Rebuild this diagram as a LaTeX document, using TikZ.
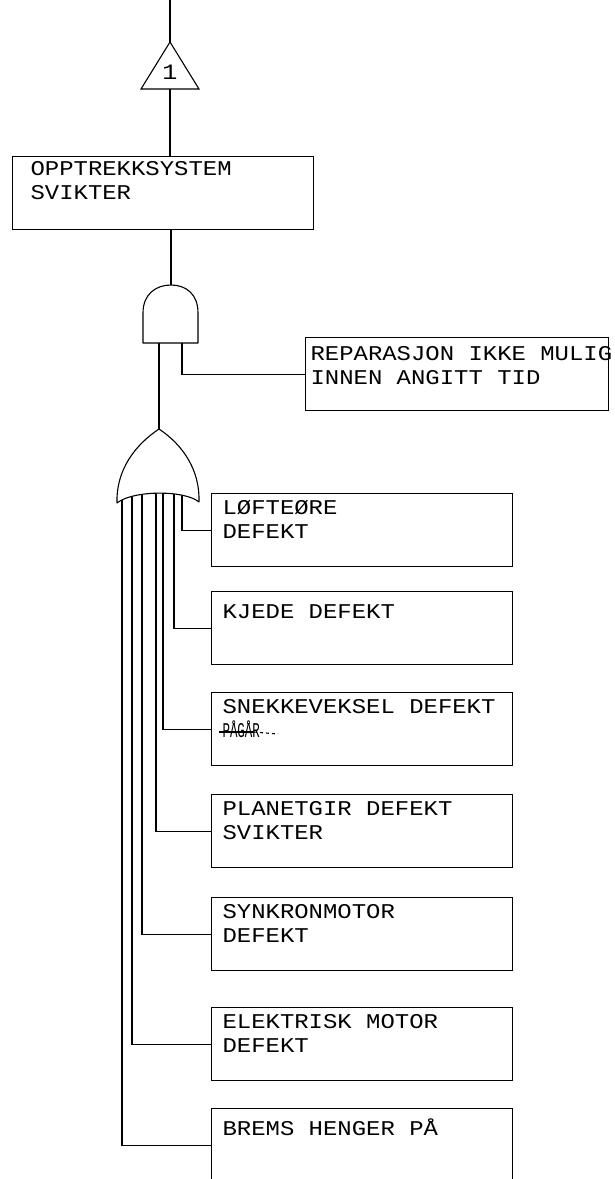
\documentclass[tikz,border=0pt]{standalone}
\usepackage{fontspec}
\newfontfamily\cadfont[FakeStretch=1.14]{Liberation Mono}
\usetikzlibrary{calc}
\newcommand{\pagar}{\scalebox{0.52}[1]{PÅGÅR}}

\begin{document}
\begin{tikzpicture}[
  x=1pt, y=-1pt,
  line width=1.1pt,
  font=\cadfont\fontsize{21}{24}\selectfont,
  evbox/.style={
    draw, anchor=north west, inner sep=0pt,
    minimum width=301pt, minimum height=73pt
  },
  evtext/.style={
    anchor=north west, inner sep=0pt, align=left,
    execute at begin node={\rule{0pt}{20pt}}
  },
  gate/.style={draw, fill=white, line join=round}
]
  \useasboundingbox (0,0) rectangle (614,1179);

  % top event and transfer symbol
  \coordinate (feed) at (170,0);
  \coordinate (tri-top) at (170,42);
  \coordinate (tri-base) at (170,89);
  \draw (tri-top) -- ++(29,47) -- ++(-58,0) -- cycle;
  \node[font=\cadfont\fontsize{22}{24}\selectfont] (tri) at (170,72) {1};
  \draw (feed) -- (tri-top);

  \node[evbox] (sys) at (12,156) {};
  \node[evtext] (sys-t) at ([shift={(18,5)}]sys.north west) {OPPTREKKSYSTEM\\SVIKTER};
  \draw (tri-base) -- (tri-base |- sys.north);

  % and gate
  \coordinate (and-top) at (171,285);
  \coordinate (and-l) at (159,343);
  \coordinate (and-r) at (182,343);
  \draw[gate] (143,343) -- (143,313)
    .. controls (143,294) and (156,285) .. (and-top)
    .. controls (186,285) and (198,294) .. (198,313) -- (198,343) -- cycle;
  \draw (and-top |- sys.south) -- (and-top);

  \node[evbox, minimum width=303pt] (rep) at (305,337) {};
  \node[evtext] (rep-t) at ([shift={(5,9)}]rep.north west) {REPARASJON IKKE MULIG\\INNEN ANGITT TID};
  \draw (and-r) |- (rep.west);

  % or gate inputs
  \coordinate (or-top) at (159,429);
  \draw (and-l) -- (or-top);
  \foreach \n/\yy/\xin/\txt in {
      lofte/493/182/{LØFTEØRE\\DEFEKT},
      kjede/591/174/{KJEDE DEFEKT},
      snekke/692/163/{SNEKKEVEKSEL DEFEKT\\\pagar},
      planet/794/156/{PLANETGIR DEFEKT\\SVIKTER},
      synkron/897/142/{SYNKRONMOTOR\\DEFEKT},
      elmotor/1007/132/{ELEKTRISK MOTOR\\DEFEKT},
      brems/1108/122/{BREMS HENGER PÅ}} {
    \node[evbox] (\n) at (211,\yy) {};
    \node[evtext] (\n-t) at ([shift={(11,7)}]\n.north west) {\txt};
    \coordinate (\n-in) at (\xin,488);
    \draw (\n-in) |- (\n.west);
  }
  \draw ([shift={(8,40)}]snekke.north west) -- ++(35,0);
  \draw[dashed] ([shift={(43,40)}]snekke.north west) -- ++(24,2);

  % or gate
  \draw[gate] (117,503) .. controls (116,470) and (135,445) .. (or-top)
    .. controls (183,445) and (200,470) .. (199,502)
    .. controls (185,490) and (133,490) .. cycle;
\end{tikzpicture}
\end{document}
